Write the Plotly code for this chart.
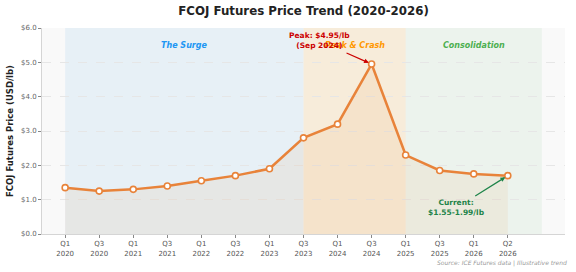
import plotly.graph_objects as go

quarters = ["Q1<br>2020", "Q3<br>2020", "Q1<br>2021", "Q3<br>2021", "Q1<br>2022", "Q3<br>2022",
            "Q1<br>2023", "Q3<br>2023", "Q1<br>2024", "Q3<br>2024", "Q1<br>2025", "Q3<br>2025",
            "Q1<br>2026", "Q2<br>2026"]
prices = [1.35, 1.25, 1.30, 1.40, 1.55, 1.70, 1.90, 2.80, 3.20, 4.95, 2.30, 1.85, 1.75, 1.70]
y_ticks = [0, 1, 2, 3, 4, 5, 6]
y_tick_labels = ["$0.0", "$1.0", "$2.0", "$3.0", "$4.0", "$5.0", "$6.0"]
phases = [("The Surge", 0, 7, "rgba(52,152,219,0.09)", "#2196F3", 3.5),
          ("Peak & Crash", 7, 10, "rgba(243,156,18,0.13)", "#FF9800", 8.5),
          ("Consolidation", 10, 14, "rgba(76,175,80,0.07)", "#4CAF50", 12.0)]

xs = list(range(len(prices)))
FONT = "DejaVu Sans"

fig = go.Figure()
for name, x0, x1, fc, tc, lx in phases:
    fig.add_shape(type="rect", xref="x", yref="y", x0=x0, x1=x1, y0=0, y1=6,
                  fillcolor=fc, line_width=0, layer="below")
    fig.add_annotation(x=lx, y=5.49, text=f"<b><i>{name}</i></b>", showarrow=False,
                       font=dict(family=FONT, size=8, color=tc))

fig.add_trace(go.Scatter(x=xs, y=prices, mode="lines+markers",
                         line=dict(color="#E8833A", width=2.5),
                         marker=dict(size=6, color="white", line=dict(color="#E8833A", width=1.6)),
                         fill="tozeroy", fillcolor="rgba(230,126,34,0.08)",
                         hoverinfo="skip", showlegend=False))

# Peak annotation
fig.add_annotation(x=9, y=prices[9], ax=8.22, ay=5.29, axref="x", ayref="y", text="",
                   showarrow=True, arrowhead=2, arrowsize=0.8, arrowwidth=1.2,
                   arrowcolor="#CC0000", standoff=3)
fig.add_annotation(x=7.48, y=5.64, text="<b>Peak: $4.95/lb<br>(Sep 2024)</b>", showarrow=False,
                   font=dict(family=FONT, size=7.5, color="#CC0000"), align="center")
# Current annotation
fig.add_annotation(x=13, y=prices[13], ax=12.0, ay=1.08, axref="x", ayref="y", text="",
                   showarrow=True, arrowhead=2, arrowsize=0.8, arrowwidth=1.2,
                   arrowcolor="#1E8449", standoff=3)
fig.add_annotation(x=11.5, y=0.76, text="<b>Current:<br>$1.55-1.99/lb</b>", showarrow=False,
                   font=dict(family=FONT, size=7.5, color="#1E8449"), align="center")

# Source
fig.add_annotation(xref="paper", yref="paper", x=1.0075, y=-0.141, xanchor="right", yanchor="middle",
                   text="<i>Source: ICE Futures data | Illustrative trend</i>", showarrow=False,
                   font=dict(family=FONT, size=6, color="#999999"))

fig.update_layout(
    width=576, height=272,
    margin=dict(l=42, r=11, t=28, b=38),
    paper_bgcolor="white", plot_bgcolor="#F9F9F9",
    font=dict(family=FONT, size=7.5, color="#555555"),
    title=dict(text="<b>FCOJ Futures Price Trend (2020-2026)</b>", x=0.5, xanchor="center",
               xref="paper", y=1 - 11 / 272, yanchor="middle", yref="container",
               font=dict(family=FONT, size=11.8, color="#222222")),
    xaxis=dict(range=[-0.68, 14.68], tickvals=xs, ticktext=quarters, showgrid=False,
               automargin=False,
               zeroline=False, showline=True, linecolor="#D5D5D5", linewidth=1,
               ticks="outside", ticklen=3, tickcolor="#888888",
               tickfont=dict(family=FONT, size=7, color="#555555")),
    yaxis=dict(range=[0, 6], tickvals=y_ticks, ticktext=y_tick_labels, automargin=False,
               showgrid=True, gridcolor="#E6E6E6", griddash="dash", gridwidth=0.8,
               zeroline=False, showline=True, linecolor="#D5D5D5", linewidth=1,
               ticks="outside", ticklen=3, tickcolor="#888888",
               tickfont=dict(family=FONT, size=7, color="#666666"),
               title=dict(text="<b>FCOJ Futures Price (USD/lb)</b>", standoff=6,
                          font=dict(family=FONT, size=8.5, color="#222222"))),
)

fig.write_html("out.html")
